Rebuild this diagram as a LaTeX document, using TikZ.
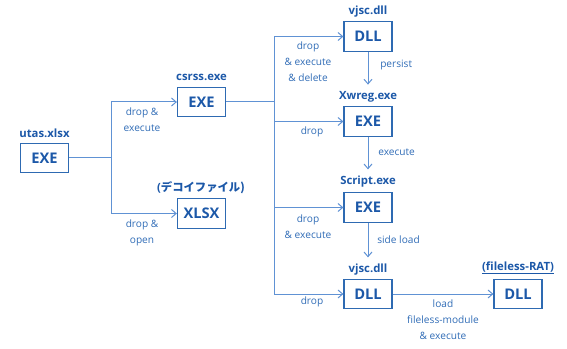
\documentclass[tikz,border=0pt]{standalone}
\usepackage{fontspec}
\setmainfont{Open Sans}
\newfontfamily\jpfont{Noto Sans CJK JP}
\usetikzlibrary{arrows.meta}
\definecolor{boxblue}{RGB}{28,88,168}
\definecolor{frameblue}{RGB}{46,106,178}
\definecolor{lineblue}{RGB}{96,146,212}
\definecolor{textblue}{RGB}{48,108,182}
\tikzset{
  filebox/.style={draw=frameblue,line width=.9pt,minimum width=36pt,minimum height=22pt,
    inner sep=0pt,text=boxblue,font=\bfseries\fontsize{11}{13}\selectfont},
  fname/.style={text=boxblue,inner sep=0pt,font=\bfseries\fontsize{8.5}{10}\selectfont},
  lbl/.style={text=textblue,align=center,inner sep=0pt,font=\fontsize{7.6}{12}\selectfont},
  link/.style={draw=lineblue,line width=.75pt},
}
\begin{document}
\begin{tikzpicture}[x=.75pt,y=-.75pt,>={Straight Barb[length=3.5pt,width=6pt]}]
  \useasboundingbox (0,0) rectangle (567,349);
  % files
  \node[filebox] (utas) at (44.5,158) {EXE};
  \node[fname] (utasname) at (44.5,133) {utas.xlsx};
  \node[filebox] (csrss) at (201.5,102) {EXE};
  \node[fname] (csrssname) at (201.5,77) {csrss.exe};
  \node[filebox] (decoy) at (201.5,213.5) {XLSX};
  \node[fname] (decoyname) at (201,188) {(\jpfont デコイファイル)};
  \node[filebox] (vjsca) at (368,36.5) {DLL};
  \node[fname] (vjscaname) at (368,12) {vjsc.dll};
  \node[filebox] (xwreg) at (368,121.5) {EXE};
  \node[fname] (xwregname) at (368,97) {Xwreg.exe};
  \node[filebox] (script) at (368,207.5) {EXE};
  \node[fname] (scriptname) at (368,182) {Script.exe};
  \node[filebox] (vjscb) at (368,294) {DLL};
  \node[fname] (vjscbname) at (368,270) {vjsc.dll};
  \node[filebox] (rat) at (518,294) {DLL};
  \node[fname] (ratname) at (518,268) {\underline{(fileless-RAT)}};
  % junctions
  \coordinate (ja) at (111,158);
  \coordinate (jb) at (274,102);
  \draw[link] (utas.east)--(ja);
  \draw[link,->] (ja) |- (csrss.west);
  \draw[link,->] (ja) |- (decoy.west);
  \draw[link] (csrss.east)--(jb);
  \draw[link,->] (jb) |- (vjsca.west);
  \draw[link,->] (jb) |- (xwreg.west);
  \draw[link,->] (jb) |- (script.west);
  \draw[link,->] (jb) |- (vjscb.west);
  \draw[link,->] (vjsca.south)--([yshift=5pt]xwregname.north);
  \draw[link,->] (xwreg.south)--([yshift=5pt]scriptname.north);
  \draw[link,->] (script.south)--([yshift=5pt]vjscbname.north);
  \draw[link,->] (vjscb.east)--(rat.west);
  % labels
  \node[lbl] at (142,120) {drop \&\\execute};
  \node[lbl] at (142,233) {drop \&\\open};
  \node[lbl] at (308,61.5) {drop\\\& execute\\\& delete};
  \node[lbl] at (312,132) {drop};
  \node[lbl] at (308,227) {drop\\\& execute};
  \node[lbl] at (312,302) {drop};
  \node[lbl,anchor=west] at (380,65) {persist};
  \node[lbl,anchor=west] at (378,152) {execute};
  \node[lbl,anchor=west] at (377,240) {side load};
  \node[lbl] at (443,320) {load\\fileless-module\\\& execute};
\end{tikzpicture}
\end{document}
